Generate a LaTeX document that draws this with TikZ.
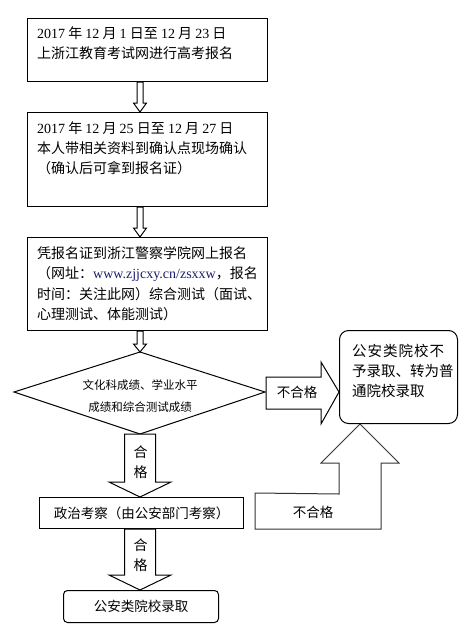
\documentclass[tikz,border=0pt]{standalone}
\usepackage{fontspec}
\setmainfont{Liberation Serif}
\newfontfamily\cjk{Noto Sans CJK SC}
\usetikzlibrary{calc}
\newcommand\lat[1]{{\rmfamily #1}}
\definecolor{urlblue}{RGB}{30,30,110}
\newcommand\blockdown[5]{%
  \draw[arr] ($(#1)+(-#3,0)$) -- ($(#2)+(-#3,-#5)$) -- ($(#2)+(-#4,-#5)$) -- (#2)
    -- ($(#2)+(#4,-#5)$) -- ($(#2)+(#3,-#5)$) -- ($(#1)+(#3,0)$) -- cycle;}
\begin{document}
\begin{tikzpicture}[x=1pt,y=-1pt,
  box/.style={draw,line width=1pt,inner sep=0pt,anchor=north west},
  txt/.style={inner sep=0pt,anchor=north west,align=left,font=\cjk\fontsize{14}{20}\selectfont},
  arr/.style={draw,line width=1pt,fill=white,line join=miter},
  lab/.style={inner sep=0pt,font=\cjk\fontsize{14}{20}\selectfont,align=center}]
\useasboundingbox[fill=white] (0,0) rectangle (470,643);

% boxes
\node[box,minimum width=240pt,minimum height=63pt] (b1) at (27,18) {};
\node[txt] (b1t) at (37,26) {\lat{2017} 年 \lat{12} 月 \lat{1} 日至 \lat{12} 月 \lat{23} 日\\上浙江教育考试网进行高考报名};

\node[box,minimum width=240pt,minimum height=94pt] (b2) at (27,112) {};
\node[txt] (b2t) at (37,121) {\lat{2017} 年 \lat{12} 月 \lat{25} 日至 \lat{12} 月 \lat{27} 日\\本人带相关资料到确认点现场确认\\（确认后可拿到报名证）};

\node[box,minimum width=240pt,minimum height=93pt] (b3) at (27,237) {};
\node[txt,font=\cjk\fontsize{14}{20.6}\selectfont] (b3t) at (37,246) {凭报名证到浙江警察学院网上报名\\（网址：\lat{\textcolor{urlblue}{www.zjjcxy.cn/zsxxw}}，报名\\时间：关注此网）综合测试（面试、\\心理测试、体能测试）};

% diamond
\coordinate (dT) at (140,352);
\coordinate (dL) at (14,392);
\coordinate (dR) at (265,392);
\coordinate (dB) at (140,434);
\draw[line width=1pt,line join=miter] (dT) -- (dR) -- (dB) -- (dL) -- cycle;
\node[lab,font=\cjk\fontsize{11.5}{22}\selectfont] (dt) at (140,396) {文化科成绩、学业水平\\成绩和综合测试成绩};

\node[box,minimum width=204pt,minimum height=31pt,font=\cjk\fontsize{13.5}{16}\selectfont] (b4) at (39,497) {政治考察（由公安部门考察）};
\node[box,rounded corners=4pt,minimum width=155pt,minimum height=32pt,font=\cjk\fontsize{13.5}{16}\selectfont] (b5) at (63,590) {公安类院校录取};

\node[box,rounded corners=9pt,minimum width=118pt,minimum height=93pt] (r) at (339,330) {};
\node[txt,font=\cjk\fontsize{14.5}{20}\selectfont] (rt) at (352,344) {公\hspace{1pt}安\hspace{1pt}类\hspace{1pt}院\hspace{1pt}校\hspace{1pt}不\\予录取、转为普\\通院校录取};

% small arrows
\blockdown{b1.south -| dT}{b2.north -| dT}{3}{6.5}{9}
\blockdown{b2.south -| dT}{b3.north -| dT}{3}{6.5}{9}
\blockdown{b3.south -| dT}{dT}{3}{6.5}{8}

% big arrows
\blockdown{dB}{b4.north -| dB}{15.5}{31}{15}
\node[lab] (ok1) at (140.5,462) {合\\格};
\blockdown{b4.south -| dB}{b5.north -| dB}{15.5}{31}{15}
\node[lab] (ok2) at (140.5,555) {合\\格};

% right arrow (fail)
\coordinate (tipR) at (r.west |- dR);
\draw[arr] ($(dR)+(1,-15)$) -- ($(tipR)+(-18,-15)$) -- ($(tipR)+(-18,-30)$) -- (tipR)
  -- ($(tipR)+(-18,32)$) -- ($(tipR)+(-18,17)$) -- ($(dR)+(1,17)$) -- cycle;
\node[lab,font=\cjk\fontsize{13.5}{16}\selectfont] (fail1) at (297,392) {不合格};

% bent up arrow (fail)
\coordinate (tipU) at ($(r.south west)+(21,0)$);
\coordinate (u0) at ($(b4.south east)+(11,0)$);
\draw[arr,draw=black!80] (u0 |- 0,493) -- ($(tipU)+(-21,70)$) -- ($(tipU)+(-21,39)$) -- ($(tipU)+(-39,39)$)
  -- (tipU) -- ($(tipU)+(39,39)$) -- ($(tipU)+(21,39)$) -- ($(tipU |- u0)+(21,0)$) -- (u0) -- cycle;
\node[lab,font=\cjk\fontsize{13.5}{16}\selectfont] (fail2) at (313,512) {不合格};
\end{tikzpicture}
\end{document}
